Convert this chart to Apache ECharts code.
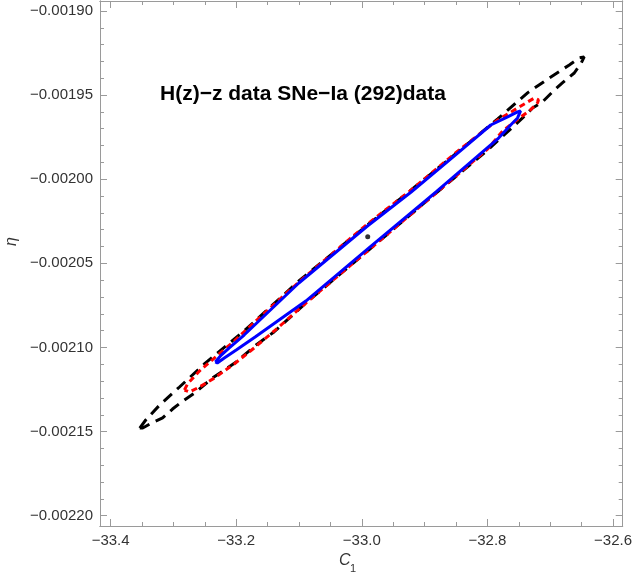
<!DOCTYPE html>
<html>
<head>
<meta charset="utf-8">
<script src="https://cdn.jsdelivr.net/npm/echarts@6/dist/echarts.min.js"></script>
<style>
  html, body { margin: 0; padding: 0; background: #fff; }
  #main { width: 635px; height: 576px; }
</style>
</head>
<body>
<div id="main"></div>
<script>
// axis ranges and ticks
const xRange = [-33.4169, -32.5846];
const yRange = [-0.0022061, -0.0018941];
const xMajor = [-33.4, -33.2, -33.0, -32.8, -32.6];
const xMinor = [-33.35, -33.3, -33.25, -33.15, -33.1, -33.05, -32.95, -32.9, -32.85, -32.75, -32.7, -32.65];
const yMajor = [-0.0022, -0.00215, -0.0021, -0.00205, -0.002, -0.00195, -0.0019];
const yMinor = [-0.00219, -0.00218, -0.00217, -0.00216, -0.00214, -0.00213, -0.00212, -0.00211,
  -0.00209, -0.00208, -0.00207, -0.00206, -0.00204, -0.00203, -0.00202, -0.00201,
  -0.00199, -0.00198, -0.00197, -0.00196, -0.00194, -0.00193, -0.00192, -0.00191];

// contours (C1, eta)
const outerBlack = [
  [-33.3536, -0.0021479], [-33.3441, -0.0021431], [-33.3219, -0.0021342], [-33.2903, -0.0021235],
  [-33.2507, -0.0021098], [-33.1874, -0.0020902], [-33.1003, -0.0020605], [-32.9910, -0.0020272],
  [-32.9214, -0.0020064], [-32.8469, -0.0019838], [-32.7836, -0.0019642], [-32.7361, -0.0019487],
  [-32.7013, -0.0019398], [-32.6696, -0.0019321], [-32.6538, -0.0019279], [-32.6459, -0.0019273],
  [-32.6506, -0.0019309], [-32.6617, -0.0019369], [-32.6807, -0.0019428], [-32.6934, -0.0019470],
  [-32.7124, -0.0019541], [-32.7282, -0.0019577], [-32.7440, -0.0019636], [-32.7994, -0.0019826],
  [-32.8818, -0.0020082], [-32.9910, -0.0020427], [-33.0892, -0.0020736], [-33.1399, -0.0020908],
  [-33.1684, -0.0020985], [-33.2000, -0.0021086], [-33.2380, -0.0021182], [-33.2665, -0.0021271],
  [-33.2871, -0.0021324], [-33.3014, -0.0021366], [-33.3172, -0.0021419], [-33.3346, -0.0021449],
  [-33.3489, -0.0021479], [-33.3536, -0.0021479]
];
const middleRed = [
  [-33.2824, -0.0021253], [-33.2776, -0.0021217], [-33.2586, -0.0021140], [-33.2349, -0.0021063],
  [-33.2032, -0.0020962], [-33.1636, -0.0020825], [-33.1003, -0.0020611], [-32.9910, -0.0020266],
  [-32.9214, -0.0020064], [-32.8469, -0.0019832], [-32.7836, -0.0019648], [-32.7520, -0.0019577],
  [-32.7361, -0.0019541], [-32.7250, -0.0019517], [-32.7187, -0.0019529], [-32.7203, -0.0019547],
  [-32.7314, -0.0019588], [-32.7488, -0.0019636], [-32.7757, -0.0019713], [-32.7994, -0.0019820],
  [-32.8818, -0.0020082], [-32.9910, -0.0020427], [-33.0892, -0.0020736], [-33.1319, -0.0020878],
  [-33.1715, -0.0021003], [-33.2032, -0.0021098], [-33.2349, -0.0021182], [-33.2586, -0.0021235],
  [-33.2744, -0.0021265], [-33.2824, -0.0021253]
];
const innerBlue = [
  [-33.2333, -0.0021086], [-33.2238, -0.0021045], [-33.2111, -0.0021003], [-33.1874, -0.0020926],
  [-33.1003, -0.0020617], [-32.9910, -0.0020278], [-32.9214, -0.0020076], [-32.8469, -0.0019844],
  [-32.7947, -0.0019678], [-32.7678, -0.0019630], [-32.7520, -0.0019600], [-32.7472, -0.0019594],
  [-32.7472, -0.0019600], [-32.7520, -0.0019636], [-32.7630, -0.0019678], [-32.7836, -0.0019761],
  [-32.8818, -0.0020076], [-32.9910, -0.0020415], [-33.0892, -0.0020724], [-33.1699, -0.0020938],
  [-33.2000, -0.0021015], [-33.2190, -0.0021063], [-33.2301, -0.0021092], [-33.2333, -0.0021086]
];
const bestFit = [[-32.9906, -0.0020342]];

const minus = s => s.replace('-', '\u2212');
const frameColor = '#9a9a9a';

function xAxisOf(pos, values, len, labels) {
  return {
    type: 'value', position: pos, min: xRange[0], max: xRange[1],
    axisLine: { show: true, onZero: false, lineStyle: { color: frameColor, width: 1 } },
    splitLine: { show: false },
    axisTick: { show: true, inside: true, length: len, customValues: values, lineStyle: { color: frameColor } },
    axisLabel: {
      show: labels, customValues: values, margin: 7, color: '#333', fontSize: 15,
      fontFamily: 'Liberation Sans, Arial, sans-serif',
      formatter: v => minus(v.toFixed(1))
    }
  };
}
function yAxisOf(pos, values, len, labels) {
  return {
    type: 'value', position: pos, min: yRange[0], max: yRange[1],
    axisLine: { show: true, onZero: false, lineStyle: { color: frameColor, width: 1 } },
    splitLine: { show: false },
    axisTick: { show: true, inside: true, length: len, customValues: values, lineStyle: { color: frameColor } },
    axisLabel: {
      show: labels, customValues: values, margin: 7, color: '#333', fontSize: 15,
      fontFamily: 'Liberation Sans, Arial, sans-serif',
      formatter: v => minus(v.toFixed(5))
    }
  };
}

const chart = echarts.init(document.getElementById('main'));
chart.setOption({
  animation: false,
  grid: { left: 100, right: 9, top: 1, bottom: 50 },
  title: {
    text: 'H(z)\u2212z data SNe\u2212Ia (292)data',
    left: 155, top: 79,
    textStyle: { fontSize: 21, fontWeight: 'bold', color: '#000', fontFamily: 'Liberation Sans, Arial, sans-serif' }
  },
  xAxis: [
    xAxisOf('bottom', xMajor, 7, true),
    xAxisOf('bottom', xMinor, 4, false),
    xAxisOf('top', xMajor, 7, false),
    xAxisOf('top', xMinor, 4, false)
  ],
  yAxis: [
    yAxisOf('left', yMajor, 7, true),
    yAxisOf('left', yMinor, 4, false),
    yAxisOf('right', yMajor, 7, false),
    yAxisOf('right', yMinor, 4, false)
  ],
  graphic: [
    { type: 'text', left: 339, top: 553, style: { text: 'C', font: 'italic 16px Liberation Sans, Arial', fill: '#333' } },
    { type: 'text', left: 350, top: 563, style: { text: '1', font: '11px Liberation Sans, Arial', fill: '#333' } },
    { type: 'text', x: 4, y: 246, rotation: Math.PI / 2, style: { text: '\u03b7', font: 'italic 16px Liberation Sans, Arial', fill: '#333' } }
  ],
  series: [
    { type: 'line', data: outerBlack, showSymbol: false, lineStyle: { color: '#000', width: 3, type: [11, 7] } },
    { type: 'line', data: middleRed, showSymbol: false, lineStyle: { color: '#ff0000', width: 3, type: [6, 4] } },
    { type: 'line', data: innerBlue, showSymbol: false, lineStyle: { color: '#0000ff', width: 3 } },
    { type: 'scatter', data: bestFit, symbolSize: 5, itemStyle: { color: '#000' } }
  ]
});
</script>
</body>
</html>
